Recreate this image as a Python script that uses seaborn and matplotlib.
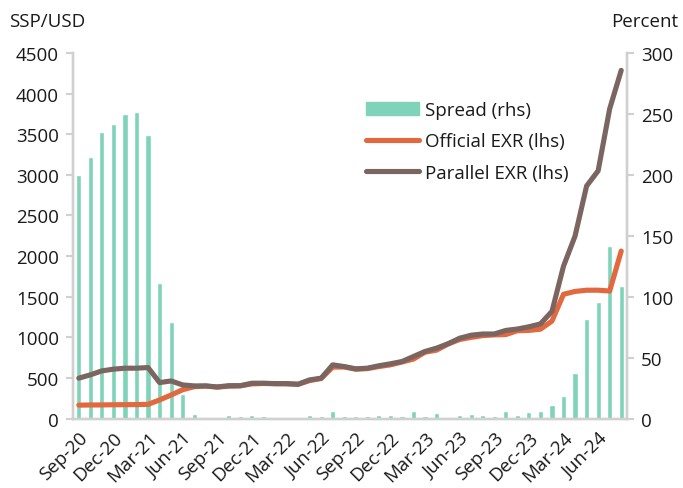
import numpy as np
import pandas as pd
import matplotlib
matplotlib.use("Agg")
import matplotlib.pyplot as plt
import seaborn as sns

sns.set_theme(style="white")
plt.rcParams["font.family"] = ["Open Sans", "DejaVu Sans"]

# Monthly series, Sep-2020 to Aug-2024
months = pd.date_range("2020-09-01", "2024-08-01", freq="MS").strftime("%b-%y").tolist()

spread_pct = [200, 214.5, 235, 242, 250, 251.5, 232.5, 111.5, 79, 20,
              3.8, 0, 0, 2.7, 1.9, 3.0, 2.2, 1.4, 1.4, 0,
              3.3, 2.2, 5.8, 2.2, 2.2, 2.2, 3.0, 3.3, 2.2, 5.8,
              2.4, 4.4, 0, 3.0, 3.8, 3.3, 2.3, 6.3, 3.3, 5.2,
              6.5, 11.4, 18.7, 37, 81.5, 95.5, 141.5, 109]

official_exr = [165, 167, 168, 170, 171, 172, 175, 229, 290, 355,
                392, 400, 387, 398, 402, 427, 432, 429, 428, 422,
                467, 493, 633, 635, 607, 615, 640, 661, 696, 732,
                817, 842, 918, 973, 999, 1021, 1030, 1034, 1081, 1085,
                1100, 1200, 1530, 1565, 1580, 1580, 1570, 2062]

parallel_exr = [497, 538, 587, 608, 620, 620, 628, 443, 463, 414,
                402, 402, 389, 405, 405, 435, 435, 430, 430, 422,
                476, 497, 661, 640, 612, 620, 650, 674, 702, 764,
                826, 867, 921, 989, 1026, 1041, 1041, 1085, 1102, 1130,
                1165, 1320, 1876, 2247, 2863, 3050, 3813, 4286]

df = pd.DataFrame({
    "idx": np.arange(len(months)),
    "month": months,
    "spread": spread_pct,
    "official": official_exr,
    "parallel": parallel_exr,
})

c_spread = "#7FD3B9"
c_official = "#E2693F"
c_parallel = "#7B6561"
c_axis = "#D0D0D0"
c_text = "#1A1A1A"
fs = 13.5

fig = plt.figure(figsize=(6.83, 4.89), dpi=100)
ax = fig.add_axes([0.1069, 0.1420, 0.9180 - 0.1069, 0.8896 - 0.1420])
ax2 = ax.twinx()

# Spread bars on the right-hand axis
sns.barplot(data=df, x="idx", y="spread", color=c_spread, width=0.45,
            saturation=1, ax=ax2, native_scale=True)

# Exchange rates on the left-hand axis
sns.lineplot(data=df, x="idx", y="official", color=c_official, lw=3.7,
             ax=ax, solid_capstyle="round", solid_joinstyle="round")
sns.lineplot(data=df, x="idx", y="parallel", color=c_parallel, lw=3.7,
             ax=ax, solid_capstyle="round", solid_joinstyle="round")

ax.set_zorder(ax2.get_zorder() + 1)
ax.patch.set_visible(False)

n = len(months)
ax.set_xlim(-0.5, n - 0.5)
ax2.set_xlim(-0.5, n - 0.5)
ax.set_ylim(0, 4500)
ax2.set_ylim(0, 300)
ax.set_yticks(np.arange(0, 4501, 500))
ax2.set_yticks(np.arange(0, 301, 50))

label_pos = list(range(0, n, 3))
ax.set_xticks(label_pos)
ax.set_xticklabels([months[i] for i in label_pos], rotation=45, ha="right",
                   rotation_mode="anchor")
ax.set_xticks(np.arange(-0.5, n, 3), minor=True)
ax.tick_params(axis="x", which="major", length=0, pad=7, labelsize=fs,
               labelcolor=c_text)
ax.tick_params(axis="x", which="minor", length=5, width=1.5, color=c_axis,
               direction="out")
ax.tick_params(axis="y", length=5, width=1.5, color=c_axis, direction="out",
               labelsize=fs, labelcolor=c_text, pad=5, left=True)
ax2.tick_params(axis="y", length=5, width=1.5, color=c_axis, direction="out",
                labelsize=fs, labelcolor=c_text, pad=5, right=True)
ax2.tick_params(axis="x", length=0)

for a in (ax, ax2):
    a.set_xlabel("")
    a.set_ylabel("")
    a.grid(False)
    a.spines["top"].set_visible(False)
    for s in ("left", "right", "bottom"):
        a.spines[s].set_color(c_axis)
        a.spines[s].set_linewidth(1.7)

fig.text(9 / 683, 1 - 22 / 489, "SSP/USD", ha="left", va="center",
         fontsize=fs, color=c_text)
fig.text(678 / 683, 1 - 22 / 489, "Percent", ha="right", va="center",
         fontsize=fs, color=c_text)

handles = [
    matplotlib.patches.Patch(color=c_spread),
    matplotlib.lines.Line2D([], [], color=c_official, lw=3.7, solid_capstyle="round"),
    matplotlib.lines.Line2D([], [], color=c_parallel, lw=3.7, solid_capstyle="round"),
]
labels = ["Spread (rhs)", "Official EXR (lhs)", "Parallel EXR (lhs)"]
fig.legend(handles, labels, loc="upper left",
           bbox_to_anchor=(366 / 683, 1 - 102 / 489), frameon=False,
           borderpad=0, borderaxespad=0, handlelength=2.85, handleheight=0.75,
           handletextpad=0.3, labelspacing=0.72, fontsize=fs,
           labelcolor=c_text)

fig.savefig("out.png", dpi=100)
